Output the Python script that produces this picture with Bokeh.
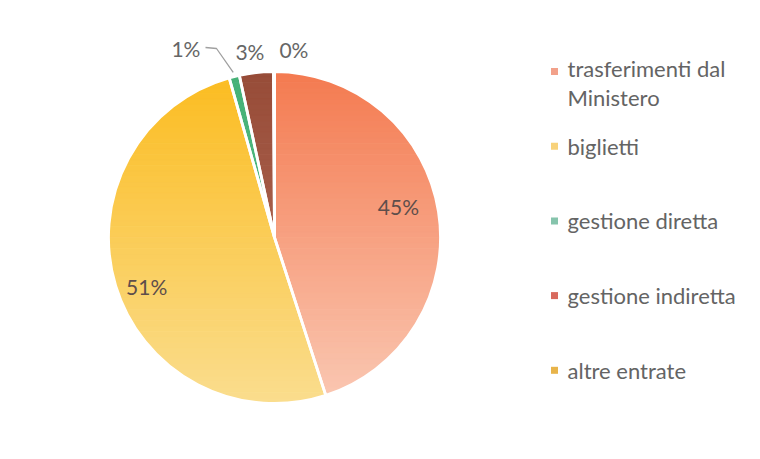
import numpy as np
from bokeh.plotting import figure
from bokeh.models import Range1d, ColumnDataSource
from bokeh.core.properties import value
from bokeh.embed import file_html
from bokeh.resources import INLINE

# ---- data ----
categories = ["trasferimenti dal Ministero", "biglietti", "gestione diretta",
              "gestione indiretta", "altre entrate"]
shares = [45.0, 50.6, 1.0, 3.3, 0.1]
pct_labels = ["45%", "51%", "1%", "3%", "0%"]

# ---- style ----
top_colors = ["#F47A50", "#FBBC20", "#45B177", "#974C38", "#E0A030"]
bottom_colors = ["#FAC8B3", "#FADD8E", "#5EC088", "#B8705C", "#E0A030"]
legend_colors = ["#F2A18A", "#F8D27A", "#86C4AC", "#D86A5E", "#E8B44A"]
FONT = "Lato"
H = 459

p = figure(width=744, height=443, x_range=Range1d(0, 744), y_range=Range1d(16, 459),
           output_backend="svg", toolbar_location=None,
           x_axis_location=None, y_axis_location=None, min_border=0)
p.xgrid.grid_line_color = None
p.ygrid.grid_line_color = None
p.outline_line_color = None
p.background_fill_color = "white"
p.border_fill_color = "white"

cx, cy, R = 274, H - 237, 166

bounds = np.cumsum([0.0] + shares) / sum(shares) * 360.0  # clockwise from top, degrees


def hex2rgb(h):
    h = h.lstrip("#")
    return np.array([int(h[i:i + 2], 16) for i in (0, 2, 4)], dtype=float)


def lerp_color(c0, c1, t):
    c = hex2rgb(c0) * (1 - t) + hex2rgb(c1) * t
    return "#%02x%02x%02x" % tuple(int(round(v)) for v in c)


def sector_poly(a0, a1):
    steps = max(2, int(np.ceil((a1 - a0) / 0.5)) + 1)
    t = np.radians(np.linspace(a0, a1, steps))
    xs = [cx] + list(cx + R * np.sin(t))
    ys = [cy] + list(cy + R * np.cos(t))
    return list(zip(xs, ys))


def clip(poly, yc, keep_below):
    out = []
    n = len(poly)
    for i in range(n):
        P = poly[i]
        Q = poly[(i + 1) % n]
        inP = P[1] <= yc if keep_below else P[1] >= yc
        inQ = Q[1] <= yc if keep_below else Q[1] >= yc
        if inP:
            out.append(P)
        if inP != inQ:
            t = (yc - P[1]) / (Q[1] - P[1])
            out.append((P[0] + t * (Q[0] - P[0]), yc))
    return out


# gradient strips for every slice
NB = 60
band_h = 2 * R / NB
sx, sy, sc = [], [], []
for i in range(len(shares)):
    a0, a1 = bounds[i], bounds[i + 1]
    if a1 - a0 <= 0:
        continue
    poly = sector_poly(a0, a1)
    for k in range(NB):
        y_hi = cy + R - k * band_h
        y_lo = y_hi - band_h
        part = clip(poly, y_hi + 0.3, True)
        if len(part) < 3:
            continue
        part = clip(part, y_lo - 0.3, False)
        if len(part) < 3:
            continue
        t = (k + 0.5) / NB
        col = lerp_color(top_colors[i], bottom_colors[i], t)
        sx.append([q[0] for q in part])
        sy.append([q[1] for q in part])
        sc.append(col)

p.patches(sx, sy, fill_color=sc, line_color=sc, line_width=0.5)

# wedges (slice outlines / white separators)
src = ColumnDataSource(dict(
    cat=categories,
    start=[np.radians(90 - bounds[i + 1]) for i in range(len(shares))],
    end=[np.radians(90 - bounds[i]) for i in range(len(shares))],
))
p.wedge(x=cx, y=cy, radius=R, start_angle="start", end_angle="end", source=src,
        fill_alpha=0, line_color="white", line_width=2.8)

# data labels
mids = [(bounds[i] + bounds[i + 1]) / 2 for i in range(len(shares))]
label_r = [0.78, 0.78, 1.27, 1.13, 1.13]
label_da = [0.0, 0.0, -12.0, 0.0, 0.0]
label_dx = [-4, -4, 4, -4, 20]
label_dy = [11, -11, 0, 0, 0]
lx, ly = [], []
for i in range(len(shares)):
    a = np.radians(mids[i] + label_da[i])
    lx.append(cx + label_r[i] * R * np.sin(a) + label_dx[i])
    ly.append(cy + label_r[i] * R * np.cos(a) + label_dy[i])
inside = [0, 1]
outside = [2, 3, 4]
p.text(x=[lx[i] for i in inside], y=[ly[i] for i in inside],
       text=[pct_labels[i] for i in inside], text_font=value(FONT),
       text_font_size="21px", text_color="#5E4E4B", text_align="center",
       text_baseline="middle")
p.text(x=[lx[i] for i in outside], y=[ly[i] for i in outside],
       text=[pct_labels[i] for i in outside], text_font=value(FONT),
       text_font_size="21px", text_color="#666666", text_align="center",
       text_baseline="middle")

# leader line for the small slice
am = np.radians(mids[2])
ex, ey = cx + R * np.sin(am), cy + R * np.cos(am)
p.line(x=[ex - 1, 216, 205], y=[ey + 4, H - 48, H - 47], line_color="#A0A0A0", line_width=1.3)

# legend
leg_y0 = H - 71
leg_step = 74.7
leg_y = [leg_y0 - i * leg_step for i in range(len(categories))]
p.scatter(x=[554] * len(categories), y=leg_y, marker="square", size=7,
          fill_color=legend_colors, line_color=None)
first_lines = ["trasferimenti dal", "Ministero"]
txt_x = [567] * (len(categories) + 1)
txt_y = [leg_y[0] + 3, leg_y[0] - 26] + leg_y[1:]
txt = first_lines + categories[1:]
p.text(x=txt_x, y=txt_y, text=txt,
       text_font=value(FONT), text_font_size="22px", text_color="#646464",
       text_align="left", text_baseline="middle")

open("out.html", "w").write(file_html(p, INLINE))
